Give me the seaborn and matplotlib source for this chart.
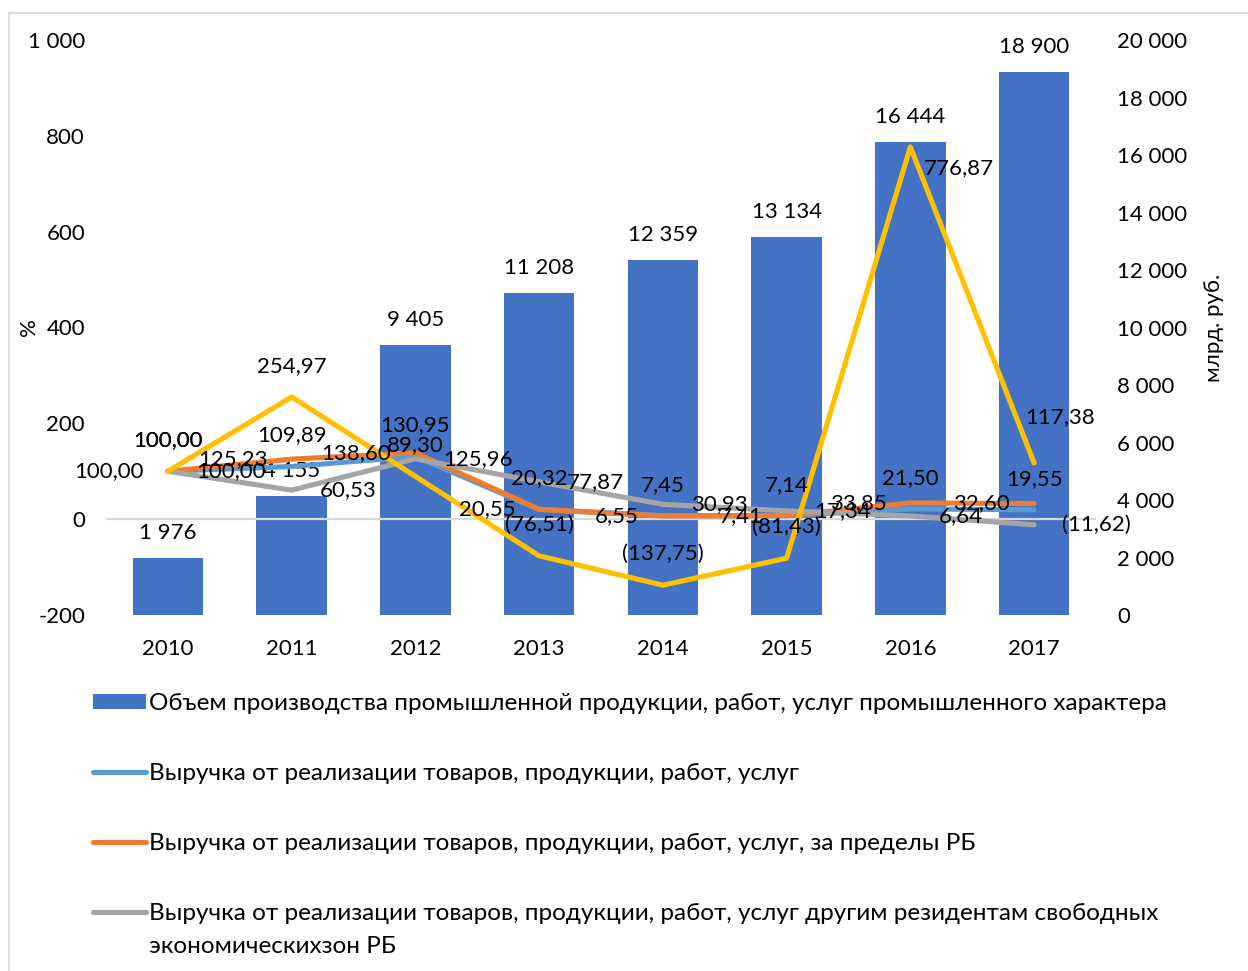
import matplotlib
matplotlib.use("Agg")
import matplotlib.pyplot as plt
import seaborn as sns
import numpy as np
import pandas as pd
from matplotlib.lines import Line2D
from matplotlib.patches import Patch

# ---------------- data ----------------
years = ["2010", "2011", "2012", "2013", "2014", "2015", "2016", "2017"]
volume = [1976, 4155, 9405, 11208, 12359, 13134, 16444, 18900]          # млрд. руб.
revenue = [100.00, 109.89, 130.95, 20.32, 7.45, 7.14, 21.50, 19.55]      # %
revenue_abroad = [100.00, 125.23, 138.60, 20.55, 6.55, 7.41, 33.85, 32.60]
revenue_fez = [100.00, 60.53, 125.96, 77.87, 30.93, 17.34, 6.64, -11.62]
other_series = [100.00, 254.97, 89.30, -76.51, -137.75, -81.43, 776.87, 117.38]

left_ticks = [-200, 0, 200, 400, 600, 800, 1000]
right_ticks = [0, 2000, 4000, 6000, 8000, 10000, 12000, 14000, 16000, 18000, 20000]

legend_labels = [
    "Объем производства промышленной продукции, работ, услуг промышленного характера",
    "Выручка от реализации товаров, продукции, работ, услуг",
    "Выручка от реализации товаров, продукции, работ, услуг, за пределы РБ",
    "Выручка от реализации товаров, продукции, работ, услуг другим резидентам свободных",
]
legend_label_cont = "экономическихзон РБ"

# ---------------- style ----------------
sns.set_style("white")
plt.rcParams["font.family"] = ["Lato", "DejaVu Sans"]
FS = 16
LFS = 17.5
TXT = "#000000"
C_BAR = "#4472C4"
C_BLUE = "#5B9BD5"
C_ORANGE = "#ED7D31"
C_GRAY = "#A5A5A5"
C_YELLOW = "#FFC000"

W, H = 1248, 971
fig = plt.figure(figsize=(W / 100, H / 100), dpi=100)
fig.patch.set_facecolor("white")

def px(v):  # pixels -> points at dpi 100
    return v * 0.72

AX_L, AX_W = 106, 990
ax = fig.add_axes([AX_L / W, 1 - 615 / H, AX_W / W, 575 / H])
ax2 = ax.twinx()

# bars (right axis)
df_bar = pd.DataFrame({"year": years, "volume": volume})
sns.barplot(data=df_bar, x="year", y="volume", ax=ax, color=C_BAR,
            width=0.57, saturation=1, edgecolor="none")
ax.set_ylim(0, 20000)
ax.set_xlim(-0.5, len(years) - 0.5)
ax.yaxis.tick_right()
ax.yaxis.set_label_position("right")
ax.set_yticks(right_ticks)
ax.set_yticklabels([f"{t:,}".replace(",", " ") for t in right_ticks])
ax.set_ylabel("млрд. руб.", fontsize=FS, color=TXT, rotation=90)
ax.yaxis.set_label_coords((1204 - AX_L) / AX_W, 0.5)
ax.set_xlabel("")
ax.tick_params(axis="y", length=0, pad=px(21), labelsize=FS, labelcolor=TXT)
ax.tick_params(axis="x", length=0, pad=px(24), labelsize=FS, labelcolor=TXT)
for s in ax.spines.values():
    s.set_visible(False)

for i, v in enumerate(volume):
    ax.annotate(f"{v:,}".replace(",", " "), xy=(i, v), xytext=(0, px(25)),
                textcoords="offset points", ha="center", va="center",
                fontsize=FS, color=TXT)

# lines (left axis)
ax2.axhline(0, color="#D9D9D9", lw=1.6, zorder=0)
pos = np.arange(len(years))
series = [
    (revenue, C_BLUE, "above"),
    (revenue_abroad, C_ORANGE, "left"),
    (revenue_fez, C_GRAY, "right"),
    (other_series, C_YELLOW, "above"),
]
for vals, col, _ in series:
    d = pd.DataFrame({"x": pos, "y": vals})
    sns.lineplot(data=d, x="x", y="y", ax=ax2, color=col, linewidth=3.7,
                 solid_capstyle="round", solid_joinstyle="round", sort=False)

ax2.set_ylim(-200, 1000)
ax2.set_xlim(-0.5, len(years) - 0.5)
ax2.yaxis.tick_left()
ax2.yaxis.set_label_position("left")
ax2.set_yticks(left_ticks)
ax2.set_yticklabels([f"{t:,}".replace(",", " ") for t in left_ticks])
ax2.set_ylabel("%", fontsize=FS, color=TXT, rotation=90)
ax2.yaxis.set_label_coords((39 - AX_L) / AX_W, 0.5)
ax2.set_xlabel("")
ax2.tick_params(axis="y", length=0, pad=px(21), labelsize=FS, labelcolor=TXT)
for s in ax2.spines.values():
    s.set_visible(False)

def fmt(v):
    s = f"{abs(v):.2f}".replace(".", ",")
    return f"({s})" if v < 0 else s

offsets = {
    "above": ((0, px(31)), "center"),
    "left": ((px(-24), 0), "right"),
    "right": ((px(28), 0), "left"),
}
for vals, col, where in series:
    for i, v in enumerate(vals):
        (dx, dy), ha = offsets[where]
        if col == C_YELLOW and i == 6:
            (dx, dy), ha = (px(13), px(-21)), "left"
        if col == C_YELLOW and i == 7:
            (dx, dy), ha = (px(26), px(46)), "center"
        ax2.annotate(fmt(v), xy=(i, v), xytext=(dx, dy), textcoords="offset points",
                     ha=ha, va="center", fontsize=FS, color=TXT, zorder=5)

# legend
handles = [
    Patch(facecolor=C_BAR, edgecolor="none"),
    Line2D([], [], color=C_BLUE, lw=3.7, solid_capstyle="round"),
    Line2D([], [], color=C_ORANGE, lw=3.7, solid_capstyle="round"),
    Line2D([], [], color=C_GRAY, lw=3.7, solid_capstyle="round"),
]
leg = fig.legend(handles, legend_labels, loc="upper left",
                 bbox_to_anchor=(93 / W, 1 - 693 / H), frameon=False,
                 fontsize=LFS, labelcolor=TXT, handlelength=2.2, handleheight=0.55,
                 handletextpad=0.12, labelspacing=2.01, borderpad=0, borderaxespad=0)

fig.canvas.draw()
bb = leg.get_texts()[3].get_window_extent()
fig.text(bb.x0 / W, (bb.y0 - 33 + bb.height / 2) / H, legend_label_cont,
         fontsize=LFS, color=TXT, ha="left", va="center")

# chart frame
fig.add_artist(Line2D([9 / W, 9 / W], [0, 1 - 13 / H], transform=fig.transFigure,
                      color="#D9D9D9", lw=1.2))
fig.add_artist(Line2D([9 / W, 1], [1 - 13 / H, 1 - 13 / H], transform=fig.transFigure,
                      color="#D9D9D9", lw=1.2))

fig.savefig("out.png", dpi=100, facecolor="white")
